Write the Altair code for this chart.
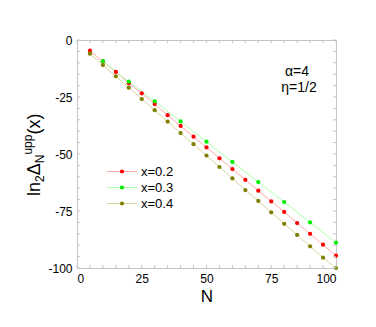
import altair as alt
import pandas as pd

# ---- data ----
N_fine = [5, 10, 15, 20, 25, 30, 35, 40, 45, 50, 55, 60, 65, 70, 75, 80, 85, 90, 95, 100]
N_coarse = [10, 20, 30, 40, 50, 60, 70, 80, 90, 100]
y_x02 = [-4.7, -9.4, -14.0, -19.0, -23.4, -28.1, -33.0, -37.7, -42.4, -47.1,
         -51.9, -56.6, -61.3, -66.1, -70.8, -75.4, -80.3, -85.0, -89.8, -94.6]
y_x03 = [-9.3, -18.3, -26.9, -35.7, -44.6, -53.5, -62.3, -71.1, -80.0, -88.9]
y_x04 = [-6.0, -11.0, -15.9, -20.9, -25.9, -30.8, -35.8, -40.8, -45.7, -50.7,
         -55.7, -60.7, -65.8, -70.6, -75.6, -80.6, -85.5, -90.5, -95.5, -100.0]
series_names = ["x=0.2", "x=0.3", "x=0.4"]
point_colors = ["#ff0000", "#00ee00", "#808000"]
line_colors = ["#ffaaaa", "#aaffaa", "#d6d6a0"]
x_ticks = list(range(0, 101, 5))
y_ticks = list(range(-100, 1, 5))
x_major = [0, 25, 50, 75, 100]
y_major = [-100, -75, -50, -25, 0]

W, H = 259, 228
FRAME = "#c4c4c4"
FONT = "Liberation Sans"

rows = []
for n, v in zip(N_fine, y_x02):
    rows.append({"N": n, "v": v, "s": series_names[0]})
for n, v in zip(N_coarse, y_x03):
    rows.append({"N": n, "v": v, "s": series_names[1]})
for n, v in zip(N_fine, y_x04):
    rows.append({"N": n, "v": v, "s": series_names[2]})
df = pd.DataFrame(rows)

xs = alt.Scale(domain=[0, 100], nice=False, zero=False)
ys = alt.Scale(domain=[-100, 0], nice=False, zero=False)

line_scale = alt.Scale(domain=series_names, range=line_colors)
point_scale = alt.Scale(domain=series_names, range=point_colors)

base = alt.Chart(df)

lines = base.mark_line(strokeWidth=1).encode(
    x=alt.X("N:Q", scale=xs,
            axis=alt.Axis(values=x_major, title="N", grid=False, ticks=False, domain=False,
                          labelFont=FONT, labelFontSize=12, labelColor="black",
                          labelPadding=5, titleFont=FONT, titleFontSize=17,
                          titleFontWeight="normal", titleColor="black", titlePadding=4,
                          labelExpr="'' + datum.value")),
    y=alt.Y("v:Q", scale=ys,
            axis=alt.Axis(values=y_major, title=None, grid=False, ticks=False, domain=False,
                          labelFont=FONT, labelFontSize=12, labelColor="black",
                          labelPadding=5, labelExpr="'' + datum.value")),
    color=alt.Color("s:N", scale=line_scale, legend=None),
    detail="s:N",
)

points = base.mark_circle(size=18, opacity=1).encode(
    x=alt.X("N:Q", scale=xs),
    y=alt.Y("v:Q", scale=ys),
    color=alt.Color("s:N", scale=point_scale, legend=None),
)

# tick marks (inward, on all four sides)
xt = alt.Chart(pd.DataFrame({"t": x_ticks}))
yt = alt.Chart(pd.DataFrame({"t": y_ticks}))
tick_style = dict(color=FRAME, strokeWidth=1)
ticks_bottom = xt.mark_rule(**tick_style).encode(x=alt.X("t:Q", scale=xs), y=alt.value(H), y2=alt.value(H - 3))
ticks_top = xt.mark_rule(**tick_style).encode(x=alt.X("t:Q", scale=xs), y=alt.value(0), y2=alt.value(3))
ticks_left = yt.mark_rule(**tick_style).encode(y=alt.Y("t:Q", scale=ys), x=alt.value(0), x2=alt.value(3))
ticks_right = yt.mark_rule(**tick_style).encode(y=alt.Y("t:Q", scale=ys), x=alt.value(W), x2=alt.value(W - 3))

# legend (custom)
leg = pd.DataFrame({"s": series_names, "i": [0, 1, 2]})
leg_y = "171.5 - 40 + datum.i * 16"
legc = alt.Chart(leg).transform_calculate(ly=leg_y)
leg_lines = legc.mark_rule(strokeWidth=1).encode(
    x=alt.value(107 - 77), x2=alt.value(137 - 77),
    y=alt.Y("ly:Q", scale=None),
    color=alt.Color("s:N", scale=line_scale, legend=None),
)
leg_pts = legc.mark_circle(size=18, opacity=1).encode(
    x=alt.value(122 - 77),
    y=alt.Y("ly:Q", scale=None),
    color=alt.Color("s:N", scale=point_scale, legend=None),
)
leg_txt = legc.mark_text(align="left", baseline="middle", font=FONT, fontSize=13, color="black").encode(
    x=alt.value(141 - 77),
    y=alt.Y("ly:Q", scale=None),
    text="s:N",
)

# annotations
ann1 = alt.Chart(pd.DataFrame({"t": ["α=4"]})).mark_text(
    align="center", baseline="middle", font=FONT, fontSize=14, color="black"
).encode(x=alt.value(297 - 77), y=alt.value(72 - 40), text="t:N")
ann2 = alt.Chart(pd.DataFrame({"t": ["η=1/2"]})).mark_text(
    align="center", baseline="middle", font=FONT, fontSize=14, color="black"
).encode(x=alt.value(299 - 77), y=alt.value(88 - 40), text="t:N")

# y-axis title built from pieces: ln_2 Δ_N^upp (x)
def piece(txt, x, y, fs):
    return alt.Chart(pd.DataFrame({"t": [txt]})).mark_text(
        align="left", baseline="alphabetic", angle=270, font=FONT, fontSize=fs, color="black"
    ).encode(x=alt.value(x), y=alt.value(y), text="t:N")

bx = -37
ytitle = [
    piece("ln", bx, 156, 18),
    piece("2", bx + 4, 142, 12),
    piece("Δ", bx, 135.3, 18),
    piece("N", bx + 4, 123.3, 12),
    piece("upp", bx - 8, 114.6, 12),
    piece("(x)", bx, 94.6, 18),
]

chart = alt.layer(
    lines, points, ticks_bottom, ticks_top, ticks_left, ticks_right,
    leg_lines, leg_pts, leg_txt, ann1, ann2, *ytitle
).resolve_scale(color="independent").properties(
    width=W, height=H,
    padding={"left": 69, "top": 32, "right": 32, "bottom": 51},
    autosize=alt.AutoSizeParams(type="none"),
    background="white",
).configure_view(stroke=FRAME, strokeWidth=1)

chart.save("out.html", embed_options={"renderer": "svg", "actions": False})
